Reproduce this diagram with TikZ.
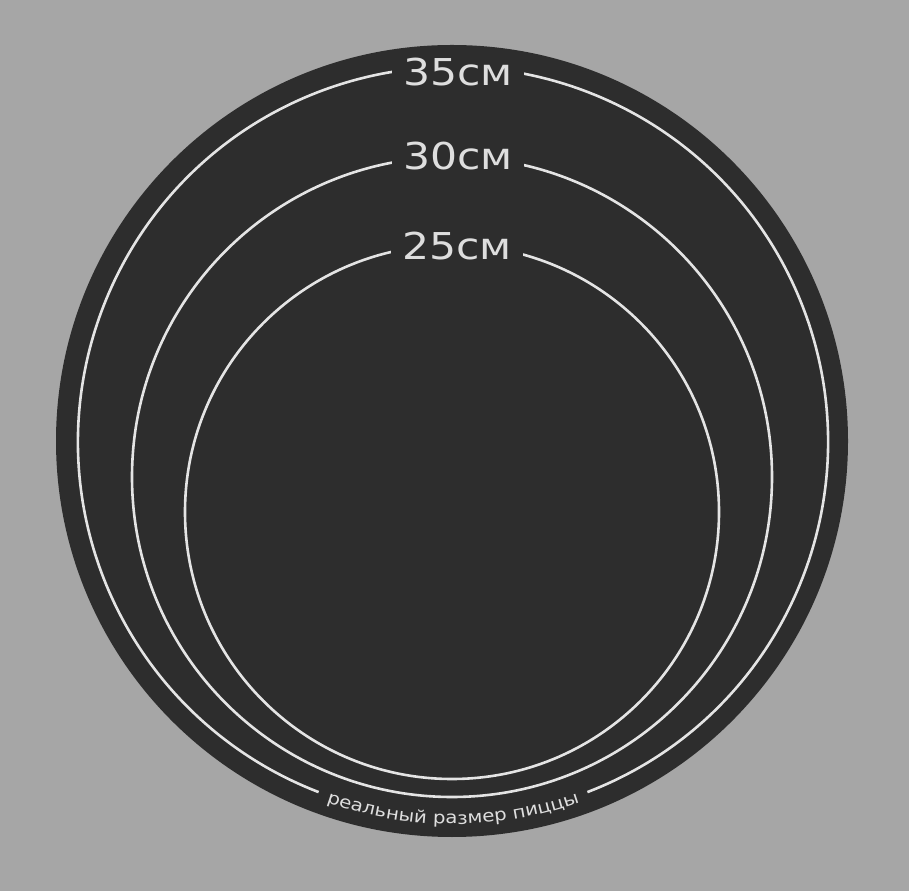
\documentclass[tikz,border=0pt]{standalone}
\usepackage{fontspec}
\setmainfont{DejaVu Sans}
\newfontfamily\sizefont[FakeStretch=1.15]{DejaVu Sans}
\definecolor{bggray}{RGB}{166, 166, 166}
\definecolor{pizzadark}{RGB}{45, 45, 45}
\definecolor{ringwhite}{RGB}{228, 228, 228}
\definecolor{labelwhite}{RGB}{222, 222, 222}
\usetikzlibrary{decorations.text}
\tikzset{
	ring/.style={draw=ringwhite, line width=2.6pt},
	sizelabel/.style={fill=pizzadark, text=labelwhite, inner xsep=11pt, inner ysep=3pt, font=\sizefont\fontsize{37}{40}\selectfont},
	bottomtext/.style={decorate, decoration={text along path, text align=center, text color=labelwhite, text={|\sizefont\fontsize{17.2}{19}\selectfont|реальный размер пиццы}}},
}
\begin{document}
\begin{tikzpicture}[x=1pt, y=1pt]
		\fill[bggray] (0,0) rectangle (909,891);
		\fill[pizzadark] (452,450) circle (396);
		% rings, the outer one broken for the caption
		\draw[ring] ([shift={(453,449)}]-69:375) arc[start angle=-69, end angle=249, radius=375];
		\draw[ring] (452,414) circle (320);
		\draw[ring] (452,379) circle (267);
		\node[sizelabel] (d35) at (458,819) {35см};
		\node[sizelabel] (d30) at (458,735) {30см};
		\node[sizelabel] (d25) at (457,645) {25см};
		\path[bottomtext] ([shift={(453,449)}]240:382) arc[start angle=240, end angle=300, radius=382];
	\end{tikzpicture}
\end{document}
